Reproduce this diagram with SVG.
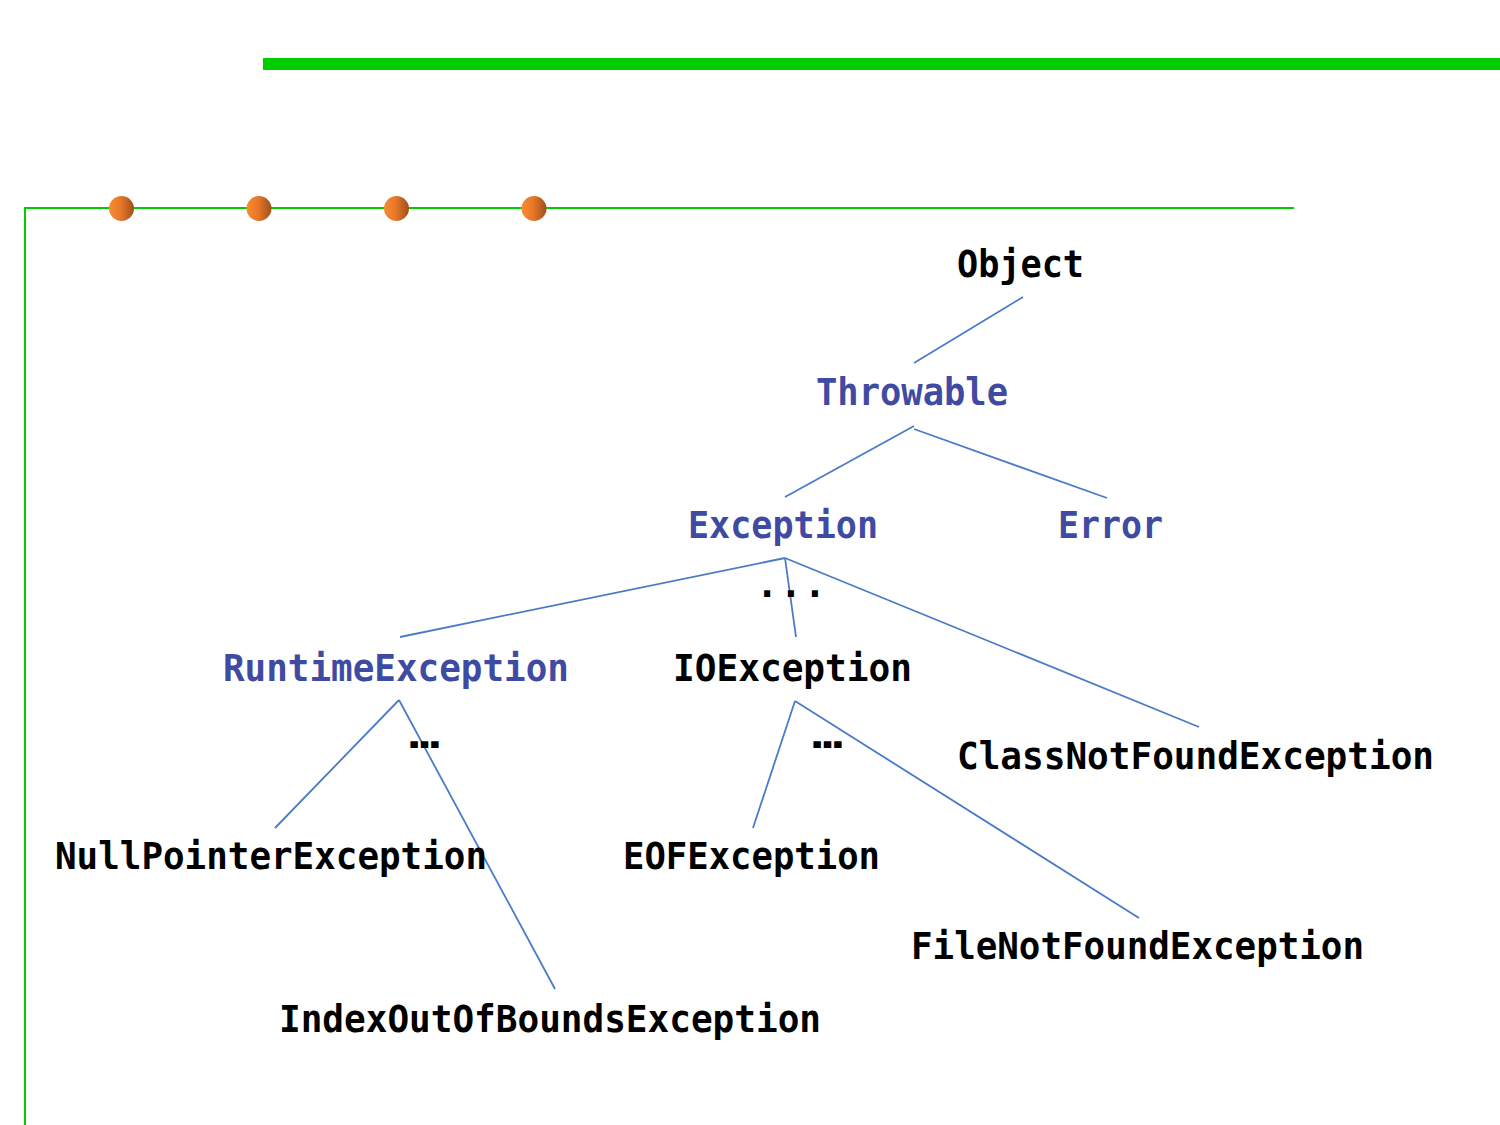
<svg xmlns="http://www.w3.org/2000/svg" width="1500" height="1125" viewBox="0 0 1500 1125">
<defs>
<linearGradient id="ball" x1="0" y1="0" x2="1" y2="0">
<stop offset="0" stop-color="#FA8A30"/>
<stop offset="0.45" stop-color="#E8782A"/>
<stop offset="1" stop-color="#A0501A"/>
</linearGradient>
<style>
.t{font-family:"DejaVu Sans Mono","Liberation Mono",monospace;font-weight:bold;font-size:37px;fill:#000}
.b{fill:#3F4BA2}
.c line{stroke:#4A7BC6;stroke-width:1.8;fill:none}
.g{stroke:#00CC00;stroke-width:2;fill:none}
</style>
</defs>
<rect width="1500" height="1125" fill="#fff"/>
<g id="frame">
<rect x="263" y="58" width="1237" height="12" fill="#00CC00"/>
<polyline class="g" points="25,1125 25,208 1294,208"/>
<circle cx="121.5" cy="208.5" r="12.5" fill="url(#ball)"/>
<circle cx="259" cy="208.5" r="12.5" fill="url(#ball)"/>
<circle cx="396.5" cy="208.5" r="12.5" fill="url(#ball)"/>
<circle cx="534" cy="208.5" r="12.5" fill="url(#ball)"/>
</g>
<g id="connectors" class="c">
<line x1="1023" y1="297" x2="914" y2="363"/>
<line x1="914" y1="426" x2="785" y2="497"/>
<line x1="914" y1="429" x2="1107" y2="498"/>
<line x1="785" y1="558" x2="400" y2="637"/>
<line x1="785" y1="558" x2="796" y2="637"/>
<line x1="785" y1="558" x2="1199" y2="727"/>
<line x1="399" y1="700" x2="275" y2="828"/>
<line x1="399" y1="700" x2="555" y2="989"/>
<line x1="795" y1="701" x2="753" y2="828"/>
<line x1="795" y1="701" x2="1139" y2="918"/>
</g>
<g id="n-object"><text class="t" x="957" y="277" textLength="127" lengthAdjust="spacingAndGlyphs">Object</text></g>
<g id="n-throwable"><text class="t b" x="816" y="405" textLength="192" lengthAdjust="spacingAndGlyphs">Throwable</text></g>
<g id="n-exception"><text class="t b" x="688" y="538" textLength="190" lengthAdjust="spacingAndGlyphs">Exception</text></g>
<g id="n-error"><text class="t b" x="1058" y="538" textLength="105" lengthAdjust="spacingAndGlyphs">Error</text></g>
<g id="n-dots1"><text class="t" x="756" y="597" textLength="70" lengthAdjust="spacing">...</text></g>
<g id="n-runtime"><text class="t b" x="223" y="681" textLength="346" lengthAdjust="spacingAndGlyphs">RuntimeException</text></g>
<g id="n-io"><text class="t" x="673" y="681" textLength="239" lengthAdjust="spacingAndGlyphs">IOException</text></g>
<g id="n-dots2"><text class="t" x="409" y="748" textLength="31" lengthAdjust="spacingAndGlyphs">…</text></g>
<g id="n-dots3"><text class="t" x="812" y="748" textLength="31" lengthAdjust="spacingAndGlyphs">…</text></g>
<g id="n-classnotfound"><text class="t" x="957" y="769" textLength="477" lengthAdjust="spacingAndGlyphs">ClassNotFoundException</text></g>
<g id="n-nullpointer"><text class="t" x="55" y="869" textLength="432" lengthAdjust="spacingAndGlyphs">NullPointerException</text></g>
<g id="n-eof"><text class="t" x="623" y="869" textLength="257" lengthAdjust="spacingAndGlyphs">EOFException</text></g>
<g id="n-filenotfound"><text class="t" x="911" y="959" textLength="453" lengthAdjust="spacingAndGlyphs">FileNotFoundException</text></g>
<g id="n-indexoutofbounds"><text class="t" x="279" y="1032" textLength="542" lengthAdjust="spacingAndGlyphs">IndexOutOfBoundsException</text></g>
</svg>
